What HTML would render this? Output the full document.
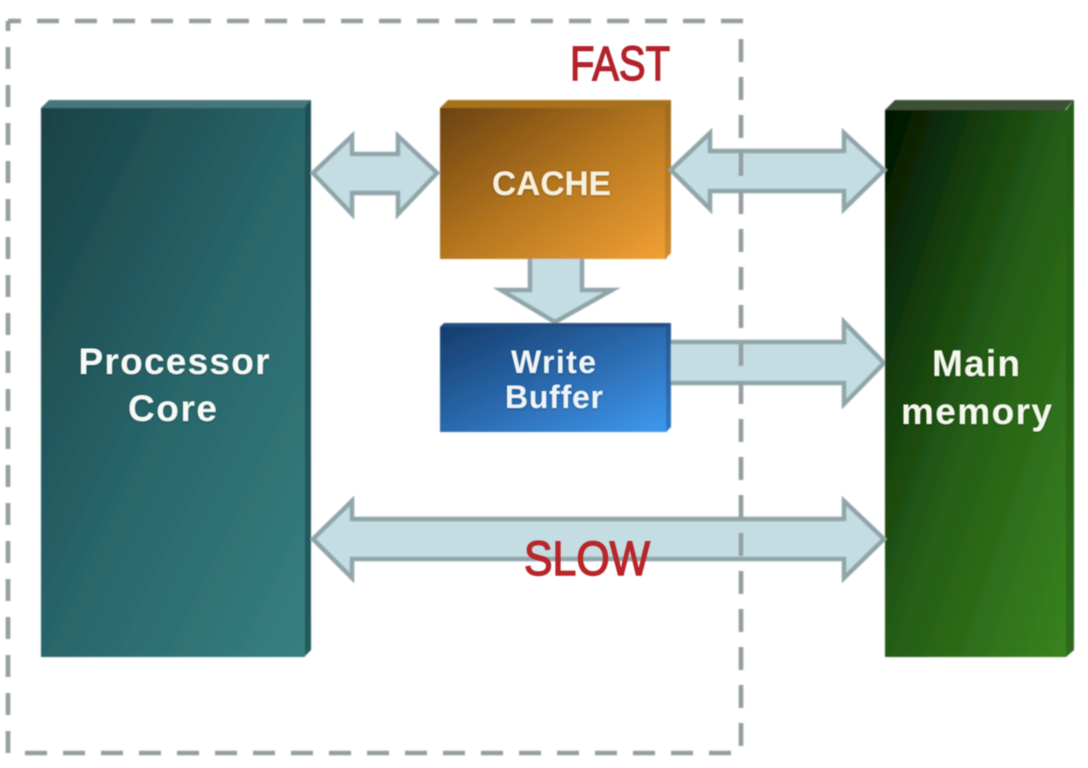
<!DOCTYPE html>
<html>
<head>
<meta charset="utf-8">
<style>
html,body{margin:0;padding:0;background:#fff;width:1088px;height:768px;overflow:hidden}
svg{display:block}
text{font-family:"Liberation Sans",sans-serif}
</style>
</head>
<body>
<svg width="1088" height="768" viewBox="0 0 1088 768" xmlns="http://www.w3.org/2000/svg">
<defs>
<linearGradient id="gp" x1="0" y1="0" x2="1" y2="1"><stop offset="0" stop-color="#194145"/><stop offset="0.5" stop-color="#28656a"/><stop offset="1" stop-color="#377f80"/></linearGradient>
<linearGradient id="gc" x1="0" y1="0" x2="1" y2="1"><stop offset="0" stop-color="#6a4210"/><stop offset="0.5" stop-color="#b5761f"/><stop offset="1" stop-color="#f2a035"/></linearGradient>
<linearGradient id="gb" x1="0" y1="0" x2="1" y2="1"><stop offset="0" stop-color="#153c6b"/><stop offset="0.5" stop-color="#2a69ad"/><stop offset="1" stop-color="#3f99f0"/></linearGradient>
<linearGradient id="gm" x1="0" y1="0" x2="1" y2="1"><stop offset="0" stop-color="#011401"/><stop offset="0.5" stop-color="#245c15"/><stop offset="1" stop-color="#38831f"/></linearGradient>
<linearGradient id="bp" x1="0" y1="0" x2="0" y2="1"><stop offset="0" stop-color="#1f4f53"/><stop offset="1" stop-color="#235a5c"/></linearGradient>
<linearGradient id="bc" x1="0" y1="0" x2="0" y2="1"><stop offset="0" stop-color="#9c6a1c"/><stop offset="1" stop-color="#d08a2b"/></linearGradient>
<linearGradient id="bb" x1="0" y1="0" x2="0" y2="1"><stop offset="0" stop-color="#22568f"/><stop offset="1" stop-color="#2f78c4"/></linearGradient>
<linearGradient id="bm" x1="0" y1="0" x2="0" y2="1"><stop offset="0" stop-color="#235a17"/><stop offset="1" stop-color="#2d6b1a"/></linearGradient>
<filter id="soft" x="-2%" y="-2%" width="104%" height="104%"><feGaussianBlur stdDeviation="0.7"/></filter>
<filter id="ts" x="-10%" y="-20%" width="120%" height="140%"><feGaussianBlur in="SourceGraphic" stdDeviation="0.5" result="b"/><feDropShadow in="b" dx="0" dy="0.500" stdDeviation="1.200" flood-color="#000" flood-opacity="0.45"/></filter>
<filter id="tr" x="-10%" y="-20%" width="120%" height="140%"><feGaussianBlur stdDeviation="0.5"/></filter>
<linearGradient id="red" x1="0" y1="0" x2="1" y2="0"><stop offset="0" stop-color="#ab242a"/><stop offset="1" stop-color="#c4262a"/></linearGradient>
</defs>
<g filter="url(#soft)">
<!-- Arrows tucked under boxes -->
<g fill="#c4dde2" stroke="#8fa5aa" stroke-width="4.500" stroke-linejoin="miter">
<polygon points="655,342 844,342 844,322 884,363 844,404 844,383 655,383"/>
<polygon points="530,250 582,250 582,290 612,290 555,322 501,290 530,290"/>
</g>
<!-- Processor Core -->
<polygon points="41,108 49,100 311,100 305,108" fill="#47767a"/>
<polygon points="311,100 311,650 304,657 304,108" fill="url(#bp)"/>
<rect x="41" y="108" width="264" height="549" fill="url(#gp)"/>
<!-- Cache -->
<polygon points="440,108 448,100 671,100 667,108" fill="#a8711f"/>
<rect x="440" y="108" width="227" height="151" fill="url(#gc)"/>
<polygon points="671,100 671,253 665,259 665,108" fill="url(#bc)"/>
<!-- Write buffer -->
<polygon points="440,327 444,323 671,323 667,327" fill="#234e80"/>
<rect x="440" y="327" width="227" height="105" fill="url(#gb)"/>
<polygon points="671,323 671,427 666,432 666,327" fill="url(#bb)"/>
<!-- Main memory -->
<polygon points="885,110 895,100 1074,100 1065,110" fill="#3c4f36"/>
<rect x="885" y="110" width="181" height="547" fill="url(#gm)"/>
<polygon points="1074,100 1074,650 1066,657 1066,110" fill="url(#bm)"/>
<!-- Arrows -->
<g fill="#c4dde2" stroke="#8fa5aa" stroke-width="4.500" stroke-linejoin="miter">
<polygon points="313,173 352,136 352,154 398,154 398,136 437,173 398,214 398,193 352,193 352,214"/>
<polygon points="671,170 710,133 710,151 844,151 844,133 884,170 844,209 844,191 710,191 710,209"/>
<polygon points="313,539 352,501 352,519 844,519 844,501 884,539 844,578 844,559 352,559 352,578"/>
</g>
<!-- Dashed boundary -->
<g fill="none" stroke="#949e9f" stroke-width="4.600">
<path d="M8 21H21" />
<path d="M37 21H743" stroke-dasharray="22 16"/>
<path d="M8 21V31" />
<path d="M8 47V753" stroke-dasharray="22 16"/>
<path d="M25 753H731" stroke-dasharray="22 16"/>
<path d="M741 39V747" stroke-dasharray="23 15"/>
</g>
</g>
<!-- Labels -->
<g filter="url(#ts)">
<text x="174" y="374" text-anchor="middle" font-size="37" font-weight="700" fill="#f6f9f5" textLength="191" lengthAdjust="spacing">Processor</text>
<text x="172.500" y="421" text-anchor="middle" font-size="37" font-weight="700" fill="#f6f9f5" textLength="89" lengthAdjust="spacing">Core</text>
<text x="551.500" y="195" text-anchor="middle" font-size="34" font-weight="700" fill="#f8f0dc" textLength="119" lengthAdjust="spacingAndGlyphs">CACHE</text>
<text x="553.500" y="373" text-anchor="middle" font-size="32" font-weight="700" fill="#eef4f8" textLength="85" lengthAdjust="spacing">Write</text>
<text x="554" y="408" text-anchor="middle" font-size="32" font-weight="700" fill="#eef4f8" textLength="98" lengthAdjust="spacing">Buffer</text>
<text x="976" y="376" text-anchor="middle" font-size="37" font-weight="700" fill="#f4f8ec" textLength="88" lengthAdjust="spacing">Main</text>
<text x="976.500" y="424" text-anchor="middle" font-size="37" font-weight="700" fill="#f4f8ec" textLength="151" lengthAdjust="spacing">memory</text>
</g>
<g filter="url(#tr)">
<text x="620" y="80" text-anchor="middle" font-size="48" fill="#b3242a" stroke="#b3242a" stroke-width="1.400" textLength="100" lengthAdjust="spacingAndGlyphs">FAST</text>
<text x="587" y="575" text-anchor="middle" font-size="48" fill="#b8252a" stroke="#b8252a" stroke-width="1.400" textLength="126" lengthAdjust="spacingAndGlyphs">SLOW</text>
</g>
</svg>
</body>
</html>
